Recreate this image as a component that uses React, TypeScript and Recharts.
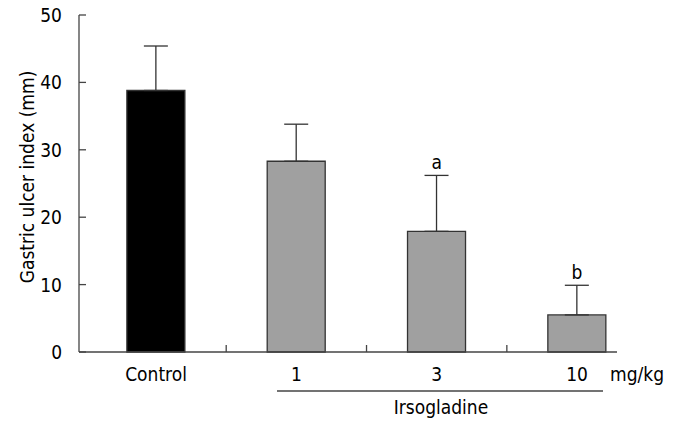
import React from 'react';
import { ComposedChart, Bar, XAxis, YAxis, ErrorBar, Line, LabelList, Cell } from 'recharts';

const categories = ['Control', '1', '3', '10'];
const means = [38.8, 28.3, 17.9, 5.5];
const errors = [6.6, 5.5, 8.3, 4.4];
const marks = ['', '', 'a', 'b'];
const fills = ['#000000', '#a0a0a0', '#a0a0a0', '#a0a0a0'];
const yTicks = [0, 10, 20, 30, 40, 50];
const groupLabel = 'Irsogladine';
const unitLabel = 'mg/kg';
const yLabel = 'Gastric ulcer index (mm)';

const data = categories.map((name, i) => ({
  name,
  idx: i,
  mean: means[i],
  err: [0, errors[i]],
  top: means[i] + errors[i],
  mark: marks[i],
}));

// category boundaries (tick marks) and centers (labels)
const xTicks = categories.flatMap((_, i) => (i === 0 ? [0] : [i - 0.5, i]));

const FONT = "'DejaVu Sans Condensed', 'Liberation Sans', sans-serif";
const AXIS = '#444';

const XTick = (props: any) => {
  const { x, y, payload } = props;
  const v = payload.value;
  if (Number.isInteger(v)) {
    return (
      <text x={x} y={y + 29} textAnchor="middle" fontFamily={FONT} fontSize={19} fill="#000">
        {categories[v]}
      </text>
    );
  }
  return <line x1={x} x2={x} y1={y} y2={y - 7} stroke={AXIS} strokeWidth={1.3} />;
};

const YTick = (props: any) => {
  const { x, y, payload } = props;
  return (
    <g>
      <line x1={x} x2={x + 7} y1={y} y2={y} stroke={AXIS} strokeWidth={1.3} />
      <text x={x - 17} y={y + 7} textAnchor="end" fontFamily={FONT} fontSize={19} fill="#000">
        {payload.value}
      </text>
    </g>
  );
};

const GroupLabel = () => (
  <g>
    <line x1={277} x2={603} y1={391} y2={391} stroke={AXIS} strokeWidth={1.3} />
    <text x={441} y={414} textAnchor="middle" fontFamily={FONT} fontSize={19} fill="#000">
      {groupLabel}
    </text>
    <text x={610} y={381} fontFamily={FONT} fontSize={19} fill="#000">
      {unitLabel}
    </text>
  </g>
);

const YLabel = () => (
  <text
    x={34}
    y={177}
    transform="rotate(-90 34 177)"
    textAnchor="middle"
    fontFamily={FONT}
    fontSize={19}
    fill="#000"
  >
    {yLabel}
  </text>
);

export default function App() {
  return (
    <div style={{ position: 'absolute', left: 0, top: 0, background: '#fff' }}>
      <ComposedChart
        width={673}
        height={425}
        data={data}
        margin={{ top: 15, right: 56, bottom: 0, left: 19 }}
      >
        <XAxis
          dataKey="idx"
          type="number"
          domain={[-0.549, 3.285]}
          allowDataOverflow
          ticks={xTicks}
          interval={0}
          tick={<XTick />}
          tickLine={false}
          tickSize={0}
          tickMargin={0}
          height={73}
          axisLine={{ stroke: AXIS, strokeWidth: 1.3 }}
          label={<GroupLabel />}
        />
        <YAxis
          type="number"
          domain={[0, 50]}
          ticks={yTicks}
          interval={0}
          tick={<YTick />}
          tickLine={false}
          tickSize={0}
          tickMargin={0}
          width={60}
          axisLine={{ stroke: AXIS, strokeWidth: 1.3 }}
          label={<YLabel />}
        />
        <Bar dataKey="mean" barSize={58} stroke="#333" strokeWidth={1.3} isAnimationActive={false}>
          {data.map((d, i) => (
            <Cell key={d.name} fill={fills[i]} />
          ))}
          <ErrorBar dataKey="err" width={12} stroke="#333" strokeWidth={1.3} direction="y" isAnimationActive={false} />
        </Bar>
        <Line
          dataKey="top"
          stroke="none"
          dot={false}
          activeDot={false}
          isAnimationActive={false}
          legendType="none"
        >
          <LabelList dataKey="mark" position="top" offset={6} fontFamily={FONT} fontSize={19} fill="#000" />
        </Line>
      </ComposedChart>
    </div>
  );
}
